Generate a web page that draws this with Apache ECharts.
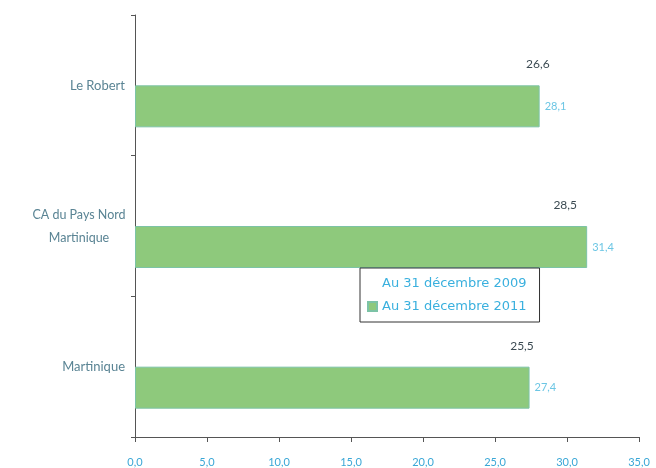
<!DOCTYPE html>
<html><head><meta charset="utf-8">
<script src="https://cdn.jsdelivr.net/npm/echarts@6/dist/echarts.min.js"></script>
<style>html,body{margin:0;padding:0;background:#fff}#c{width:656px;height:468px}</style>
</head><body><div id="c"></div>
<script>
const categories = ['Le Robert', 'CA du Pays Nord\nMartinique', 'Martinique'];
const values2009 = [26.6, 28.5, 25.5];
const values2011 = [28.1, 31.4, 27.4];
const seriesNames = ['Au 31 décembre 2009', 'Au 31 décembre 2011'];
const xTicks = [0, 5, 10, 15, 20, 25, 30, 35];

const fmt = v => v.toFixed(1).replace('.', ',');
const font = 'Lato, "Open Sans", sans-serif';
const chart = echarts.init(document.getElementById('c'));
chart.setOption({
  animation: false,
  textStyle: { fontFamily: font },
  grid: { left: 135, right: 17, top: 15, bottom: 31 },
  xAxis: {
    type: 'value', min: xTicks[0], max: xTicks[xTicks.length - 1], interval: 5,
    splitLine: { show: false },
    axisLine: { show: true, lineStyle: { color: '#555', width: 1 } },
    axisTick: { show: true, length: 5, lineStyle: { color: '#555' } },
    axisLabel: { color: '#3aa7d6', fontSize: 11, margin: 20, formatter: v => fmt(v) }
  },
  yAxis: {
    type: 'category', data: categories, inverse: true,
    axisLine: { show: true, lineStyle: { color: '#555', width: 1 } },
    axisTick: { show: true, length: 4, lineStyle: { color: '#555' } },
    axisLabel: {
      color: '#5a8494', fontSize: 13, margin: 10,
      formatter: v => v.indexOf('\n') >= 0 ? '{m|' + v + '}' : v,
      rich: { m: { width: 92, align: 'center', lineHeight: 23, color: '#5a8494', fontSize: 12.5, fontFamily: font } }
    }
  },
  legend: {
    orient: 'vertical', left: 360, top: 268,
    backgroundColor: '#fff', borderColor: '#333', borderWidth: 1,
    padding: [9, 13, 9, 7], itemGap: 10, itemWidth: 9, itemHeight: 9,
    textStyle: { color: '#3ab0de', fontSize: 13, fontFamily: '"DejaVu Sans", sans-serif' },
    data: [{ name: seriesNames[0], icon: 'none' }, { name: seriesNames[1], icon: 'rect' }]
  },
  series: [
    {
      name: seriesNames[0], type: 'bar', data: values2009,
      barWidth: 42, barGap: '0%',
      itemStyle: { color: 'rgba(255,255,255,0)' },
      label: { show: true, position: 'right', distance: 8, color: '#3b4a52', fontSize: 12, formatter: p => fmt(p.value) }
    },
    {
      name: seriesNames[1], type: 'bar', data: values2011,
      barWidth: 42, barGap: '0%',
      itemStyle: { color: '#8ec97c', borderColor: '#7cc3a6', borderWidth: 1 },
      label: { show: true, position: 'right', distance: 5, color: '#6cc6e4', fontSize: 11, formatter: p => fmt(p.value) }
    }
  ]
});
</script></body></html>
